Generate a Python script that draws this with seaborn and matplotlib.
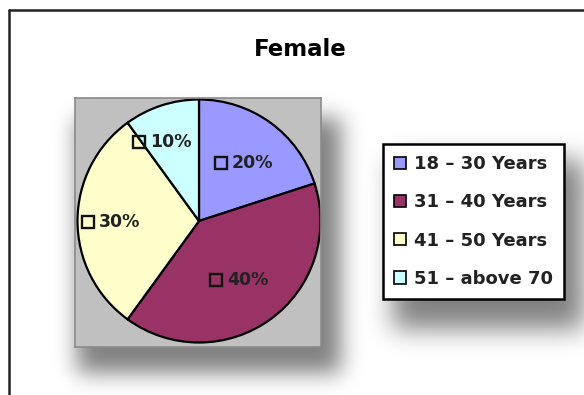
import numpy as np
import matplotlib
matplotlib.use("Agg")
import matplotlib.pyplot as plt
import matplotlib.transforms as mtransforms
import seaborn as sns

# ---- data ----
title = "Female"
categories = ["18 – 30 Years", "31 – 40 Years", "41 – 50 Years", "51 – above 70"]
values = [20, 40, 30, 10]
colors = ["#9999FF", "#993366", "#FFFFCC", "#CCFFFF"]

sns.set_theme(style="white")
plt.rcParams["font.family"] = ["DejaVu Sans", "Liberation Sans"]

W, H = 584, 395
fig = plt.figure(figsize=(W / 100, H / 100), dpi=100)
fig.patch.set_facecolor("white")


def fx(px):
    return px / W


def fy(py):
    return 1 - py / H


# ---- soft drop shadows, drawn as a blurred image in a background axes ----
def gauss_kernel(sigma):
    n = int(3 * sigma)
    k = np.exp(-0.5 * (np.arange(-n, n + 1) / sigma) ** 2)
    return k / k.sum()


def blur(a, sigma):
    k = gauss_kernel(sigma)
    pad = len(k)
    a = np.pad(a, pad, mode="constant")
    a = np.apply_along_axis(lambda r: np.convolve(r, k, mode="same"), 1, a)
    a = np.apply_along_axis(lambda c: np.convolve(c, k, mode="same"), 0, a)
    return a[pad:-pad, pad:-pad]


m1 = np.zeros((H, W))
m1[98 + 20:347 + 26, 75 + 2:321 + 20] = 1.0      # plot-area shadow
m2 = np.zeros((H, W))
m2[144 + 16:297 + 32, 383 + 10:566 + 30] = 1.0   # legend shadow
shadow = np.maximum(blur(m1, 11.0), blur(m2, 13.0))
rgba = np.zeros((H, W, 4))
rgba[..., 3] = np.clip(shadow, 0, 1) * 0.5

bg = fig.add_axes([0, 0, 1, 1], zorder=0)
bg.imshow(rgba, extent=(0, W, H, 0), interpolation="bilinear")
bg.set_xlim(0, W)
bg.set_ylim(H, 0)
bg.axis("off")

# outer frame lines (left and top)
bg.plot([9, 9], [10, H], color="#222222", lw=1.8)
bg.plot([9, W], [10, 10], color="#222222", lw=1.8)

# title
bg.text(300, 49, title, ha="center", va="center", fontsize=16.5,
        fontweight="bold", color="black")

# ---- pie axes (gray plot area) ----
bx0, by0, bx1, by1 = 75, 98, 321, 347
cx, cy = 199, 221
ax = fig.add_axes([fx(bx0), fy(by1), fx(bx1 - bx0), (by1 - by0) / H], zorder=2)

wedges, _ = ax.pie(values, colors=colors, startangle=90, counterclock=False,
                   radius=1.0, frame=True,
                   wedgeprops=dict(edgecolor="black", linewidth=1.6))
ax.set_frame_on(True)
ax.patch.set_visible(True)
ax.set_facecolor("#C0C0C0")
for s in ax.spines.values():
    s.set_visible(True)
    s.set_color("#8A8A8A")
    s.set_linewidth(1.2)
R = 121.5  # pixels per unit radius
ax.set_xlim(-(cx - bx0) / R, (bx1 - cx) / R)
ax.set_ylim(-(by1 - cy) / R, (cy - by0) / R)
ax.set_aspect("auto")
ax.set_xticks([])
ax.set_yticks([])

# label placement (radial distance / angle tweak per wedge, styling only)
label_r = [0.61, 0.59, 0.72, 0.715]
label_da = [-2.4, -1.2, 0.5, 6.5]
for w, v, r, da in zip(wedges, values, label_r, label_da):
    mid = np.deg2rad((w.theta1 + w.theta2) / 2 + da)
    x, y = r * np.cos(mid), r * np.sin(mid)
    tr_sq = mtransforms.offset_copy(ax.transData, fig=fig, x=-24, y=0, units="dots")
    ax.plot([x], [y], marker="s", ms=8, mfc="none", mec="#111111", mew=1.7,
            transform=tr_sq, zorder=5)
    tr_tx = mtransforms.offset_copy(ax.transData, fig=fig, x=-13, y=0, units="dots")
    ax.text(x, y, f"{v}%", ha="left", va="center", fontsize=12.5,
            fontweight="bold", color="#222222", transform=tr_tx, zorder=5)

# ---- legend ----
leg = fig.legend(wedges, categories, loc="upper left",
                 bbox_to_anchor=(fx(383), fy(144)), borderaxespad=0,
                 frameon=True, fancybox=False, shadow=False,
                 prop=dict(size=13, weight="bold"),
                 handlelength=0.65, handleheight=0.65, handletextpad=0.45,
                 labelspacing=1.12, borderpad=0.62)
leg.set_zorder(3)
leg.get_frame().set_edgecolor("black")
leg.get_frame().set_linewidth(1.8)
leg.get_frame().set_facecolor("white")
leg.get_frame().set_alpha(1)
for h in leg.legend_handles:
    h.set_edgecolor("black")
    h.set_linewidth(1.2)
for t in leg.get_texts():
    t.set_color("#222222")

fig.savefig("out.png", dpi=100, facecolor="white")
